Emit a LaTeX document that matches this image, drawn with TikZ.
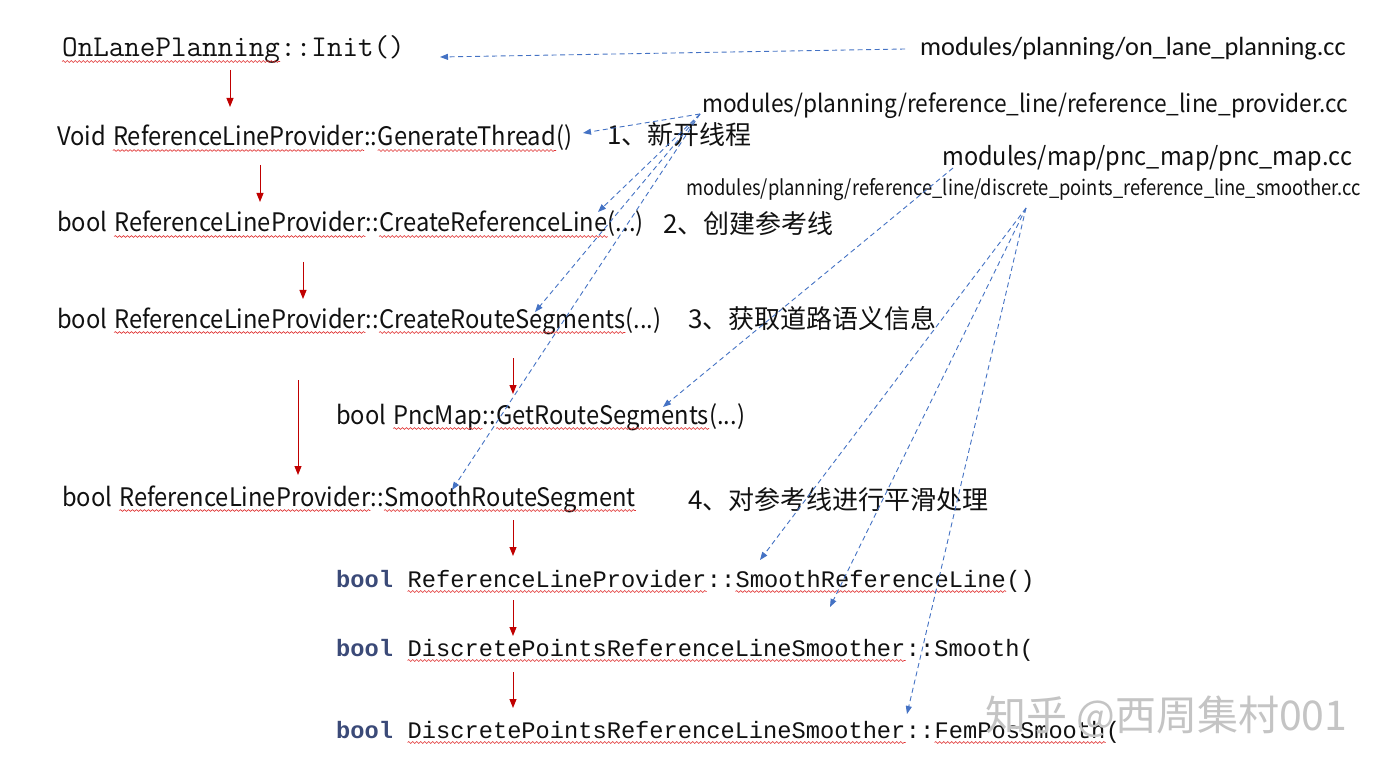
\documentclass[tikz,border=0pt]{standalone}
\usepackage{fontspec}
\usetikzlibrary{arrows.meta,decorations.pathmorphing}
\newfontfamily\cjk{Noto Sans CJK SC}
\newfontfamily\cjkn[FakeStretch=0.93]{Noto Sans CJK SC}
\newfontfamily\cjkc[FakeStretch=0.87]{Noto Sans CJK SC}
\newfontfamily\calfont{Carlito}
\newfontfamily\consol{Liberation Mono}
\definecolor{arrred}{HTML}{C00000}
\definecolor{dblue}{HTML}{4472C4}
\definecolor{sqred}{HTML}{E03030}
\definecolor{kw}{HTML}{3B4A78}
\definecolor{wm}{HTML}{C4C4C4}
\definecolor{txt}{HTML}{111111}
\newcommand\wsp{\kern0.26em}
\newcommand\msp{\kern0.6em}
\tikzset{
  lbl/.style={anchor=base west, inner sep=0pt, text=txt, font=\cjkn\fontsize{25.5}{30}\selectfont},
  cnote/.style={anchor=base west, inner sep=0pt, text=txt, font=\cjk\fontsize{26}{30}\selectfont},
  pathlbl/.style={anchor=base west, inner sep=0pt, text=txt, font=\cjkn\fontsize{24.4}{28}\selectfont},
  smallpath/.style={anchor=base west, inner sep=0pt, text=txt, font=\cjkc\fontsize{21.1}{24}\selectfont},
  code/.style={anchor=base west, inner sep=0pt, text=txt, font=\consol\fontsize{23.7}{28}\selectfont},
  kwd/.style={code, text=kw, font=\consol\bfseries\fontsize{23.7}{28}\selectfont},
  oldcode/.style={anchor=base west, inner sep=0pt, text=txt, font=\ttfamily\fontsize{30.2}{34}\selectfont},
  squig/.style={draw=sqred, line width=0.6pt, decorate, decoration={snake, amplitude=0.9pt, segment length=4pt}},
  sqn/.style={append after command={([yshift=-4.5pt]\tikzlastnode.base west) edge[squig] ([yshift=-4.5pt]\tikzlastnode.base east)}},
  redarr/.style={draw=arrred, line width=1pt, -{Triangle[length=9pt,width=7pt]}},
  bluearr/.style={draw=dblue, line width=0.9pt, dash pattern=on 5pt off 3.5pt, -{Triangle[length=8pt,width=6pt]}},
  wmark/.style={anchor=base west, inner sep=0pt, text=wm, font=\cjk\fontsize{41}{46}\selectfont},
}
\begin{document}
\begin{tikzpicture}[x=1pt,y=-1pt]
\useasboundingbox[fill=white] (0,0) rectangle (1383,775);

% OnLanePlanning::Init()
\node[oldcode,sqn] (i1) at (62,57) {OnLanePlanning};
\node[oldcode] (i2) at (i1.base east) {::Init()};
\node[pathlbl, font=\calfont\fontsize{26.3}{30}\selectfont] (f1) at (920,56) {modules/planning/on\_lane\_planning.cc};

% GenerateThread
\node[lbl] (g0) at (57,146) {Void\wsp};
\node[lbl,sqn] (g1) at (g0.base east) {ReferenceLineProvider};
\node[lbl] (g2) at (g1.base east) {::};
\node[lbl,sqn] (g3) at (g2.base east) {GenerateThread};
\node[lbl] (g4) at (g3.base east) {()};
\node[pathlbl] (f2) at (702,113) {modules/planning/reference\_line/reference\_line\_provider.cc};
\node[cnote] (n1) at (607,145) {1、新开线程};
\node[pathlbl, font=\cjkn\fontsize{25.3}{28}\selectfont] (f3) at (942,166) {modules/map/pnc\_map/pnc\_map.cc};
\node[smallpath] (f4) at (686,196) {modules/planning/reference\_line/discrete\_points\_reference\_line\_smoother.cc};

% CreateReferenceLine
\node[lbl] (c0) at (57,232) {bool\wsp};
\node[lbl,sqn] (c1) at (c0.base east) {ReferenceLineProvider};
\node[lbl] (c2) at (c1.base east) {::};
\node[lbl,sqn] (c3) at (c2.base east) {CreateReferenceLine};
\node[lbl] (c4) at (c3.base east) {(...)};
\node[cnote] (n2) at (663,234) {2、创建参考线};

% CreateRouteSegments
\node[lbl] (r0) at (57,328) {bool\wsp};
\node[lbl,sqn] (r1) at (r0.base east) {ReferenceLineProvider};
\node[lbl] (r2) at (r1.base east) {::};
\node[lbl,sqn] (r3) at (r2.base east) {CreateRouteSegments};
\node[lbl] (r4) at (r3.base east) {(...)};
\node[cnote] (n3) at (688,328) {3、获取道路语义信息};

% GetRouteSegments
\node[lbl] (p0) at (336,424) {bool\wsp};
\node[lbl,sqn] (p1) at (p0.base east) {PncMap};
\node[lbl] (p2) at (p1.base east) {::};
\node[lbl,sqn] (p3) at (p2.base east) {GetRouteSegments};
\node[lbl] (p4) at (p3.base east) {(...)};

% SmoothRouteSegment
\node[lbl] (m0) at (62,506) {bool\wsp};
\node[lbl,sqn] (m1) at (m0.base east) {ReferenceLineProvider};
\node[lbl] (m2) at (m1.base east) {::};
\node[lbl,sqn] (m3) at (m2.base east) {SmoothRouteSegment};
\node[cnote] (n4) at (688,509) {4、对参考线进行平滑处理};

% SmoothReferenceLine
\node[kwd] (s0) at (336,587) {bool\msp};
\node[code,sqn] (s1) at (s0.base east) {ReferenceLineProvider};
\node[code] (s2) at (s1.base east) {::};
\node[code,sqn] (s3) at (s2.base east) {SmoothReferenceLine};
\node[code] (s4) at (s3.base east) {()};

% Smooth(
\node[kwd] (d0) at (336,656) {bool\msp};
\node[code,sqn] (d1) at (d0.base east) {DiscretePointsReferenceLineSmoother};
\node[code] (d2) at (d1.base east) {::Smooth(};

% FemPosSmooth(
\node[kwd] (e0) at (336,738) {bool\msp};
\node[code,sqn] (e1) at (e0.base east) {DiscretePointsReferenceLineSmoother};
\node[code] (e2) at (e1.base east) {::};
\node[code,sqn] (e3) at (e2.base east) {FemPosSmooth};
\node[code] (e4) at (e3.base east) {(};

\node[wmark] (wmk) at (985,730) {知乎 @西周集村001};

% red call arrows
\coordinate (ra1) at (230,70);  \coordinate (rb1) at (230,107);
\coordinate (ra2) at (260,165); \coordinate (rb2) at (260,202);
\coordinate (ra3) at (303,262); \coordinate (rb3) at (303,299);
\coordinate (ra4) at (513,358); \coordinate (rb4) at (513,394);
\coordinate (ra5) at (298,380); \coordinate (rb5) at (298,475);
\coordinate (ra6) at (513,520); \coordinate (rb6) at (513,556);
\coordinate (ra7) at (513,600); \coordinate (rb7) at (513,636);
\coordinate (ra8) at (513,672); \coordinate (rb8) at (513,708);
\foreach \i in {1,...,8} {\draw[redarr] (ra\i) -- (rb\i);}

% blue file arrows
\coordinate (src1) at (905,49);   \coordinate (t1) at (440,57);
\coordinate (src2) at (700,114);
\coordinate (t2a) at (583,133); \coordinate (t2b) at (598,212);
\coordinate (t2c) at (535,312); \coordinate (t2d) at (452,490);
\coordinate (src3) at (953,168);  \coordinate (t3) at (663,407);
\coordinate (src4) at (1026,208);
\coordinate (t4a) at (760,560); \coordinate (t4b) at (830,607);
\coordinate (t4c) at (907,714);
\draw[bluearr] (src1) -- (t1);
\foreach \t in {t2a,t2b,t2c,t2d} {\draw[bluearr] (src2) -- (\t);}
\draw[bluearr] (src3) -- (t3);
\foreach \t in {t4a,t4b,t4c} {\draw[bluearr] (src4) -- (\t);}
\end{tikzpicture}
\end{document}
